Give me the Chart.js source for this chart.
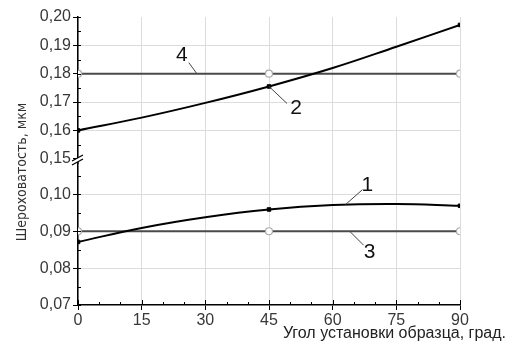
<!DOCTYPE html>
<html>
<head>
<meta charset="utf-8">
<script src="https://cdn.jsdelivr.net/npm/chart.js@4.4.0/dist/chart.umd.min.js"></script>
<style>
html, body { margin: 0; padding: 0; background: #fff; }
</style>
</head>
<body>
<canvas id="roughnessChart" width="509" height="351"></canvas>
<script>
// values
const angles = [0, 15, 30, 45, 60, 75, 90];
const curve1 = [0.0871, 0.0909, 0.0938, 0.0959, 0.0971, 0.0974, 0.0969];
const curve2 = [0.1600, 0.1645, 0.1697, 0.1755, 0.1820, 0.1895, 0.1972];
const markedAngles = [0, 45, 90];
const line3 = [0.09, 0.09, 0.09];
const line4 = [0.18, 0.18, 0.18];

const xTicks = [0, 15, 30, 45, 60, 75, 90];
const yLowerTicks = [0.07, 0.08, 0.09, 0.10];
const yUpperTicks = [0.15, 0.16, 0.17, 0.18, 0.19, 0.20];
const xMinorStep = 5;
const yMinorStep = 0.005;

const xTitle = 'Угол установки образца, град.';
const yTitle = 'Шероховатость, мкм';

const tickFont = { family: 'Arial, "Liberation Sans", sans-serif', size: 16 };
const tickColor = '#383838';

function pts(xs, ys){
    return xs.map(function(x, i){ return { x: x, y: ys[i] }; });
}
function markRadius(r){
    return function(ctx){
        return markedAngles.indexOf(ctx.raw.x) >= 0 ? r : 0;
    };
}
function fmt(v){
    return v.toFixed(2).replace('.', ',');
}

// curve number labels: anchor on curve (data), leader end and text offsets (px)
const curveNotes = [
    { text: '1', axis: 'yL', x: 63, y: 0.0972, lx: 17, ly: -15, tx: 22, ty: -19 },
    { text: '2', axis: 'yU', x: 45, y: 0.1755, lx: 18, ly: 17, tx: 27, ty: 22 },
    { text: '3', axis: 'yL', x: 64, y: 0.09, lx: 14, ly: 14, tx: 20, ty: 21 },
    { text: '4', axis: 'yU', x: 28, y: 0.18, lx: -8, ly: -11, tx: -15, ty: -18 }
];

const decorPlugin = {
    id: 'decor',
    afterDraw(chart){
        const c = chart.ctx;
        const xs = chart.scales.x;
        const yU = chart.scales.yU;
        const yL = chart.scales.yL;
        const area = chart.chartArea;
        c.save();

        // minor / inner ticks
        c.strokeStyle = '#000';
        c.lineWidth = 1;
        c.beginPath();
        for(let v = 0; v <= 90; v += xMinorStep){
            const px = Math.round(xs.getPixelForValue(v)) + 0.5;
            const len = (v % 15 === 0) ? 5 : 3;
            c.moveTo(px, area.bottom);
            c.lineTo(px, area.bottom - len);
        }
        for(let v = 0.07; v <= yL.max + 1e-9; v += yMinorStep){
            const py = Math.round(yL.getPixelForValue(v)) + 0.5;
            c.moveTo(area.left, py);
            c.lineTo(area.left + 3, py);
        }
        for(let v = 0.15; v <= 0.2 + 1e-9; v += yMinorStep){
            const py = Math.round(yU.getPixelForValue(v)) + 0.5;
            c.moveTo(area.left, py);
            c.lineTo(area.left + 3, py);
        }
        c.stroke();

        // axis break mark
        const yb = yU.bottom - 3;
        const x0 = area.left;
        c.fillStyle = '#fff';
        c.fillRect(x0 - 2, yb - 2, 5, 4);
        c.strokeStyle = '#000';
        c.lineWidth = 1.3;
        c.beginPath();
        c.moveTo(x0 - 6, yb + 1); c.lineTo(x0 + 5, yb - 5);
        c.moveTo(x0 - 6, yb + 5); c.lineTo(x0 + 5, yb - 1);
        c.stroke();

        // curve numbers
        c.strokeStyle = '#444';
        c.lineWidth = 1;
        c.fillStyle = '#111';
        c.font = '21px Arial, "Liberation Sans", sans-serif';
        c.textAlign = 'center';
        c.textBaseline = 'middle';
        curveNotes.forEach(function(n){
            const ax = xs.getPixelForValue(n.x);
            const ay = chart.scales[n.axis].getPixelForValue(n.y);
            c.beginPath();
            c.moveTo(ax, ay);
            c.lineTo(ax + n.lx, ay + n.ly);
            c.stroke();
            c.fillText(n.text, ax + n.tx, ay + n.ty);
        });

        // axis titles
        c.fillStyle = '#222';
        c.font = '16px Arial, "Liberation Sans", sans-serif';
        c.textAlign = 'right';
        c.textBaseline = 'middle';
        c.fillText(xTitle, 506, 334);

        c.translate(22, 172);
        c.rotate(-Math.PI / 2);
        c.font = '14px "Liberation Sans Narrow", "DejaVu Sans Condensed", sans-serif';
        c.fillStyle = '#333';
        c.textAlign = 'center';
        c.fillText(yTitle, 0, 0);
        c.restore();
    }
};

const ctx = document.getElementById('roughnessChart').getContext('2d');
const roughnessChart = new Chart(ctx, {
    type: 'line',
    data: {
        datasets: [{
            label: '1',
            data: pts(angles, curve1),
            yAxisID: 'yL',
            borderColor: '#000',
            backgroundColor: '#000',
            borderWidth: 2,
            tension: 0.4,
            pointStyle: 'rect',
            pointRadius: markRadius(2.5),
            pointBorderWidth: 1,
            order: 1
        }, {
            label: '2',
            data: pts(angles, curve2),
            yAxisID: 'yU',
            borderColor: '#000',
            backgroundColor: '#000',
            borderWidth: 2,
            tension: 0.4,
            pointStyle: 'rect',
            pointRadius: markRadius(2.5),
            pointBorderWidth: 1,
            order: 1
        }, {
            label: '3',
            data: pts(markedAngles, line3),
            yAxisID: 'yL',
            borderColor: '#4a4a4a',
            backgroundColor: '#fff',
            pointBorderColor: '#aaa',
            borderWidth: 2,
            pointRadius: 3.5,
            pointBorderWidth: 1.2,
            order: 2
        }, {
            label: '4',
            data: pts(markedAngles, line4),
            yAxisID: 'yU',
            borderColor: '#4a4a4a',
            backgroundColor: '#fff',
            pointBorderColor: '#aaa',
            borderWidth: 2,
            pointRadius: 3.5,
            pointBorderWidth: 1.2,
            order: 2
        }]
    },
    options: {
        responsive: false,
        animation: false,
        devicePixelRatio: 1,
        layout: { padding: { top: 17, right: 49, bottom: 0, left: 0 } },
        plugins: {
            legend: { display: false },
            tooltip: { enabled: false }
        },
        scales: {
            x: {
                type: 'linear',
                min: 0,
                max: 90,
                afterBuildTicks(scale){ scale.ticks = xTicks.map(function(v){ return { value: v }; }); },
                afterFit(scale){ scale.height = 46; },
                grid: { color: '#dcdcdc', tickColor: '#000', tickLength: 5 },
                border: { color: '#000', width: 1.5 },
                ticks: { font: tickFont, color: tickColor, padding: 1, autoSkip: false, maxRotation: 0 }
            },
            yL: {
                type: 'linear',
                position: 'left',
                stack: 'rough',
                stackWeight: 142,
                min: 0.07,
                max: 0.1085,
                afterBuildTicks(scale){ scale.ticks = yLowerTicks.map(function(v){ return { value: v }; }); },
                afterFit(scale){ scale.width = 78; },
                grid: {
                    color: function(c){ return (c.tick && c.tick.value === 0.07) ? 'rgba(0,0,0,0)' : '#dcdcdc'; },
                    tickColor: '#000',
                    tickLength: 5
                },
                border: { color: '#000', width: 1.5 },
                ticks: { font: tickFont, color: tickColor, padding: 2, autoSkip: false, callback: fmt }
            },
            yU: {
                type: 'linear',
                position: 'left',
                stack: 'rough',
                stackWeight: 146,
                min: 0.1485,
                max: 0.20,
                afterBuildTicks(scale){ scale.ticks = yUpperTicks.map(function(v){ return { value: v }; }); },
                afterFit(scale){ scale.width = 78; },
                grid: {
                    color: function(c){ return (c.tick && (c.tick.value === 0.15 || c.tick.value === 0.2)) ? 'rgba(0,0,0,0)' : '#dcdcdc'; },
                    tickColor: '#000',
                    tickLength: 5
                },
                border: { color: '#000', width: 1.5 },
                ticks: { font: tickFont, color: tickColor, padding: 2, autoSkip: false, callback: fmt }
            }
        }
    },
    plugins: [decorPlugin]
});
</script>
</body>
</html>
